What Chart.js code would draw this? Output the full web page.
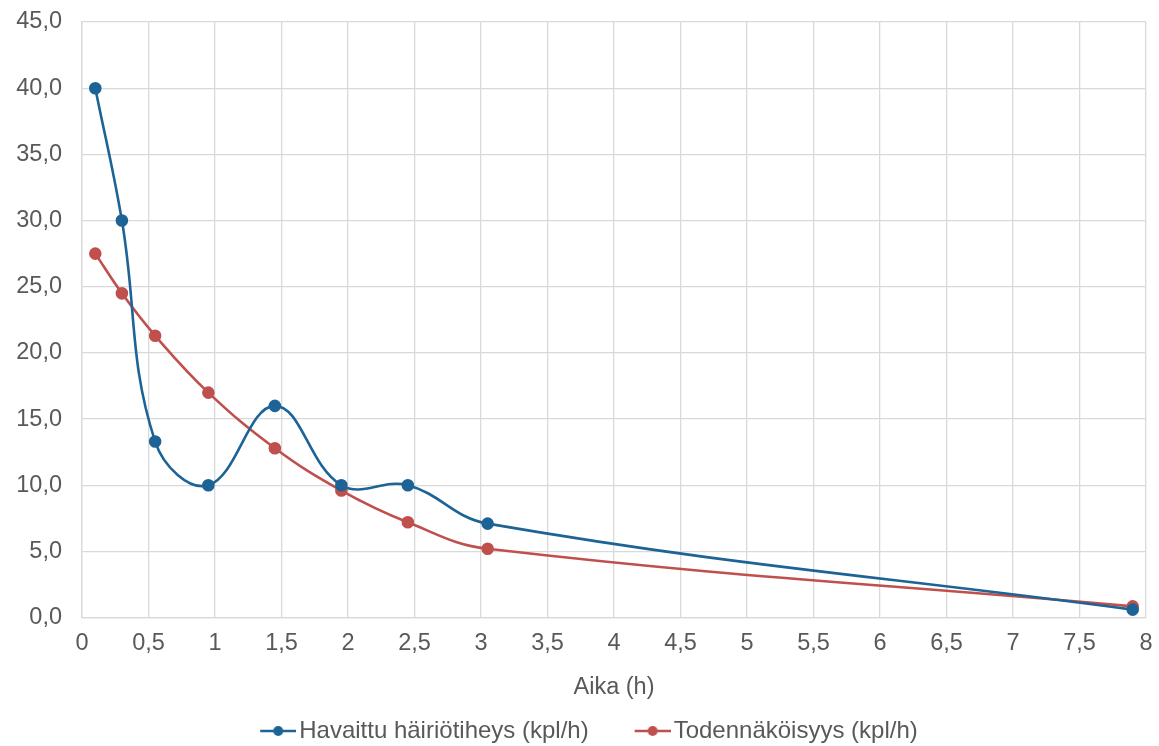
<!DOCTYPE html>
<html lang="fi">
<head>
    <meta charset="UTF-8">
    <title>Häiriötiheys</title>
    <script src="https://cdn.jsdelivr.net/npm/chart.js"></script>
    <style>
        html, body { margin: 0; padding: 0; background: #fff; }
        #wrap { width: 1159px; height: 746px; }
    </style>
</head>
<body>
    <div id="wrap"><canvas id="chart"></canvas></div>

    <script>
        // Time points (h)
        const aika = [0.1, 0.3, 0.55, 0.95, 1.45, 1.95, 2.45, 3.05, 7.9];
        // Observed disturbance density
        const havaittu = [40.0, 30.0, 13.3, 10.0, 16.0, 10.0, 10.0, 7.1, 0.6];
        // Probability curve
        const todennakoisyys = [27.5, 24.5, 21.3, 17.0, 12.8, 9.6, 7.2, 5.2, 0.85];

        const seriesNames = ['Havaittu häiriötiheys (kpl/h)', 'Todennäköisyys (kpl/h)'];
        const colors = ['#1d6396', '#c0504d'];
        const fontFamily = '"Liberation Sans", Arial, sans-serif';
        const textColor = '#595959';

        const toPoints = (ys) => aika.map((x, i) => ({ x: x, y: ys[i] }));

        // legend marker: short line with a dot, drawn at the right end of a wider canvas
        const BOX_W = 71;
        function legendMarker(color) {
            const c = document.createElement('canvas');
            c.width = BOX_W + 18; c.height = 14;
            const ctx = c.getContext('2d');
            const x0 = c.width - 36;
            ctx.strokeStyle = color;
            ctx.lineWidth = 2.5;
            ctx.beginPath();
            ctx.moveTo(x0, 7); ctx.lineTo(c.width, 7);
            ctx.stroke();
            ctx.fillStyle = color;
            ctx.beginPath();
            ctx.arc(x0 + 18, 7, 5, 0, Math.PI * 2);
            ctx.fill();
            return c;
        }

        // nudge the legend a bit left and down, like in the original
        const shiftLegend = {
            id: 'shiftLegend',
            afterLayout(chart) {
                const l = chart.legend;
                l.left -= 6; l.right -= 6;
                l.top += 7; l.bottom += 7;
            }
        };

        new Chart(document.getElementById('chart'), {
            type: 'line',
            data: {
                datasets: [
                    {
                        label: seriesNames[0],
                        data: toPoints(havaittu),
                        borderColor: colors[0],
                        backgroundColor: colors[0],
                        borderWidth: 2.6,
                        pointRadius: 5,
                        pointHoverRadius: 5,
                        tension: 0.4
                    },
                    {
                        label: seriesNames[1],
                        data: toPoints(todennakoisyys),
                        borderColor: colors[1],
                        backgroundColor: colors[1],
                        borderWidth: 2.6,
                        pointRadius: 5,
                        pointHoverRadius: 5,
                        tension: 0.4
                    }
                ]
            },
            plugins: [shiftLegend],
            options: {
                responsive: true,
                maintainAspectRatio: false,
                animation: false,
                layout: { padding: { left: 0, right: 13, top: 22, bottom: 0 } },
                plugins: {
                    tooltip: { enabled: false },
                    legend: {
                        position: 'bottom',
                        labels: {
                            color: textColor,
                            font: { family: fontFamily, size: 24 },
                            usePointStyle: true,
                            pointStyleWidth: BOX_W,
                            padding: 2,
                            generateLabels: (chart) => chart.data.datasets.map((ds, i) => ({
                                text: ds.label,
                                pointStyle: legendMarker(colors[i]),
                                fillStyle: colors[i],
                                strokeStyle: colors[i],
                                lineWidth: 0,
                                fontColor: textColor,
                                datasetIndex: i
                            }))
                        }
                    }
                },
                scales: {
                    x: {
                        type: 'linear',
                        min: 0,
                        max: 8,
                        afterFit: (scale) => { scale.paddingLeft = 0; scale.paddingRight = 0; },
                        ticks: {
                            stepSize: 0.5,
                            color: textColor,
                            font: { family: fontFamily, size: 23.5 },
                            padding: 12,
                            callback: (v) => String(v).replace('.', ',')
                        },
                        grid: { color: '#d9d9d9', lineWidth: 1.3, drawTicks: false },
                        border: { color: '#d9d9d9', width: 1.3 },
                        title: {
                            display: true,
                            text: 'Aika (h)',
                            color: textColor,
                            font: { family: fontFamily, size: 23.5 },
                            padding: { top: 4, bottom: 8 }
                        }
                    },
                    y: {
                        min: 0,
                        max: 45,
                        afterFit: (scale) => {
                            scale.width = 82;
                            scale.paddingTop = 0;
                            scale.paddingBottom = 0;
                        },
                        ticks: {
                            stepSize: 5,
                            color: textColor,
                            font: { family: fontFamily, size: 23.5 },
                            padding: 20,
                            callback: (v) => v.toFixed(1).replace('.', ',')
                        },
                        grid: { color: '#d9d9d9', lineWidth: 1.3, drawTicks: false },
                        border: { color: '#d9d9d9', width: 1.3 }
                    }
                }
            }
        });
    </script>
</body>
</html>
